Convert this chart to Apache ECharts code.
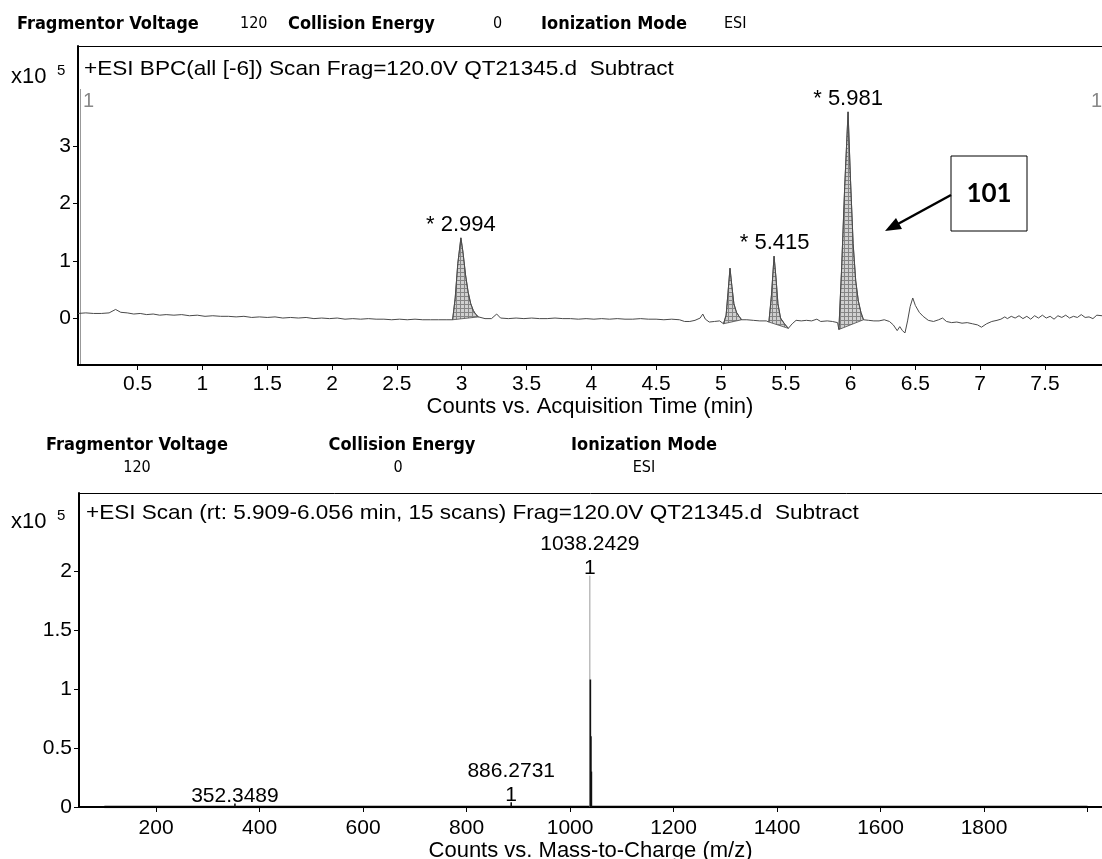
<!DOCTYPE html>
<html><head><meta charset="utf-8">
<script src="https://cdn.jsdelivr.net/npm/echarts@6/dist/echarts.min.js"></script>
<style>html,body{margin:0;padding:0;background:#fff}#c{width:1102px;height:859px}</style>
</head><body><div id="c"></div>
<script>
// ---------- Chromatogram (BPC) ----------
const chromTime = [
0.04,0.10,0.16,0.22,0.28,0.33,0.37,0.42,0.47,0.52,0.57,0.62,0.67,0.72,0.78,0.84,0.90,0.96,1.02,1.08,1.14,1.20,1.26,1.32,1.38,1.44,1.50,1.56,1.62,1.68,1.74,1.80,1.86,1.92,1.98,2.04,2.10,2.16,2.22,2.28,2.34,2.40,2.46,2.52,2.58,2.64,2.70,2.76,2.82,2.88,2.93,
2.95,2.97,2.994,3.01,3.03,3.05,3.07,3.09,3.11,3.13,
3.18,3.23,3.27,3.30,3.36,3.42,3.48,3.54,3.60,3.66,3.72,3.78,3.84,3.90,3.96,4.02,4.08,4.14,4.20,4.26,4.32,4.38,4.44,4.50,4.56,4.62,4.68,4.72,4.76,4.80,4.84,4.86,4.88,4.91,4.95,4.99,5.02,
5.04,5.055,5.07,5.085,5.10,5.12,5.14,5.16,
5.20,5.25,5.30,5.35,5.37,
5.39,5.41,5.425,5.44,5.46,5.49,5.52,
5.55,5.58,5.62,5.66,5.70,5.74,5.77,5.82,5.86,5.90,5.91,
5.93,5.955,5.981,6.00,6.02,6.04,6.06,6.08,6.10,
6.14,6.18,6.22,6.26,6.30,6.33,6.36,6.38,6.40,6.42,6.44,6.46,6.48,6.50,6.53,6.56,6.60,6.64,6.68,6.71,6.74,6.78,6.82,6.86,6.90,6.94,6.98,7.01,7.05,7.09,7.13,7.16,7.19,7.21,7.24,7.27,7.30,7.33,7.36,7.39,7.42,7.45,7.48,7.51,7.54,7.57,7.60,7.63,7.66,7.69,7.72,7.75,7.78,7.81,7.84,7.87,7.90,7.94
];
const chromSignal = [
0.08,0.09,0.08,0.08,0.09,0.15,0.10,0.09,0.07,0.08,0.06,0.07,0.05,0.06,0.05,0.06,0.04,0.05,0.03,0.04,0.03,0.03,0.02,0.03,0.01,0.02,0.01,0.02,0.00,0.01,0.00,0.01,-0.01,0.00,-0.01,0.00,-0.02,-0.01,-0.02,-0.01,-0.02,-0.02,-0.03,-0.02,-0.03,-0.02,-0.03,-0.03,-0.03,-0.03,-0.03,
0.35,0.95,1.40,1.15,0.75,0.45,0.25,0.13,0.06,0.02,
-0.01,-0.01,0.07,0.00,-0.01,0.00,-0.01,0.00,-0.01,-0.01,0.00,-0.01,-0.01,-0.02,-0.01,-0.02,-0.01,-0.02,-0.01,-0.02,-0.02,-0.01,-0.02,-0.02,-0.03,-0.02,-0.03,-0.06,-0.06,-0.04,0.00,0.07,-0.02,-0.07,-0.06,-0.05,-0.10,
0.05,0.45,0.87,0.55,0.25,0.10,0.03,-0.03,
-0.03,-0.04,-0.05,-0.05,-0.07,
0.40,1.08,0.70,0.25,0.00,-0.10,-0.18,
-0.10,-0.04,-0.05,-0.04,-0.05,-0.02,-0.06,-0.05,-0.06,-0.08,-0.20,
0.80,2.30,3.60,2.40,1.30,0.65,0.30,0.10,-0.03,
-0.04,-0.05,-0.05,-0.03,-0.06,-0.12,-0.22,-0.15,-0.22,-0.26,-0.05,0.20,0.35,0.22,0.10,0.03,-0.04,-0.06,-0.03,0.00,-0.06,-0.08,-0.07,-0.09,-0.08,-0.10,-0.12,-0.16,-0.10,-0.06,-0.04,-0.02,0.02,-0.01,0.03,0.00,0.04,-0.01,0.03,-0.02,0.04,0.00,0.05,0.00,0.03,-0.02,0.04,0.01,0.05,0.00,0.03,0.01,0.06,0.01,0.02,-0.01,0.05,0.04
];
const peakWindows = [[2.93,3.13],[5.02,5.16],[5.37,5.52],[5.91,6.10]];
const peakLabelTimes = [2.994,5.415,5.981];
const peakLabelValues = [1.40,1.08,3.60];
const peakLabelTexts = ['* 2.994','* 5.415','* 5.981'];
const timeTicks = [0.5,1,1.5,2,2.5,3,3.5,4,4.5,5,5.5,6,6.5,7,7.5];
const countTicksTop = [0,1,2,3];

// ---------- Mass spectrum ----------
const msMz = [352.3489,886.2731,1038.2429,1039.2460,1040.2490,1041.2520];
const msIntensity = [0.03,0.04,1.96,1.08,0.60,0.30];
const msBaseMz = [100,2000];
const msBaseValue = [0,0];
const msLabelMz = [352.3489,886.2731,1038.2429];
const msLabelValues = [0.03,0.04,1.96];
const msLabelTexts = ['352.3489','886.2731\n1','1038.2429\n1'];
const mzTicks = [200,400,600,800,1000,1200,1400,1600,1800,2000];
const mzLabels = [200,400,600,800,1000,1200,1400,1600,1800];
const countTicksBottom = [0,0.5,1,1.5,2];

const AR = 'Liberation Sans, Arial, sans-serif';
const HD = 'DejaVu Sans Condensed, DejaVu Sans, sans-serif';

const hatch = document.createElement('canvas');
hatch.width = 4; hatch.height = 4;
const g = hatch.getContext('2d');
g.fillStyle = '#d0d0d0'; g.fillRect(0,0,4,4);
g.fillStyle = '#858585'; g.fillRect(0,0,4,1); g.fillRect(0,0,1,4);

const chromData = chromTime.map((t,i)=>[t,chromSignal[i]]);

const chart = echarts.init(document.getElementById('c'), null, {renderer:'canvas'});

function axisX(min,max,ticks,labels,name,grid,gap,margin){
  return {
    type:'value', gridIndex:grid, min:min, max:max,
    axisLine:{show:true,onZero:false,lineStyle:{color:'#000',width:2}},
    axisTick:{show:true,customValues:ticks,length:5,lineStyle:{color:'#000',width:1}},
    axisLabel:{customValues:labels,color:'#000',fontFamily:AR,fontSize:21,margin:margin,
      formatter:function(v){return String(v);}},
    splitLine:{show:false},
    name:name, nameLocation:'middle', nameGap:gap,
    nameTextStyle:{color:'#000',fontFamily:AR,fontSize:22}
  };
}
function axisY(min,max,ticks,grid){
  return {
    type:'value', gridIndex:grid, min:min, max:max,
    axisLine:{show:true,onZero:false,lineStyle:{color:'#000',width:2}},
    axisTick:{show:true,customValues:ticks,length:5,lineStyle:{color:'#000',width:1}},
    axisLabel:{customValues:ticks,color:'#000',fontFamily:AR,fontSize:21,margin:7,
      formatter:function(v){return String(v);}},
    splitLine:{show:false}
  };
}

const txt = (x,y,text,font,align,color,sx)=>({type:'text',x:x,y:y,silent:true,scaleX:sx||1,
  style:{text:text,font:font,fill:color||'#000',textAlign:align||'left',textVerticalAlign:'middle'}});
const hline = (x1,y1,x2,y2,color,w)=>({type:'line',silent:true,shape:{x1:x1,y1:y1,x2:x2,y2:y2},style:{stroke:color,lineWidth:w}});

const option = {
  animation:false,
  backgroundColor:'#fff',
  grid:[
    {left:78,top:46,width:1024,height:319,show:false,containLabel:false,outerBoundsMode:'none'},
    {left:79,top:493,width:1023,height:314,show:false,containLabel:false,outerBoundsMode:'none'}
  ],
  xAxis:[
    axisX(0.04,7.94,timeTicks,timeTicks,'Counts vs. Acquisition Time (min)',0,31,9),
    axisX(51,2028,mzTicks,mzLabels,'Counts vs. Mass-to-Charge (m/z)',1,32,11)
  ],
  yAxis:[
    axisY(-0.82,4.75,countTicksTop,0),
    axisY(0,2.66,countTicksBottom,1)
  ],
  series:[
    {type:'line',xAxisIndex:0,yAxisIndex:0,data:chromData,showSymbol:false,symbol:'none',
      lineStyle:{color:'#4a4a4a',width:1},z:3},
    {type:'custom',xAxisIndex:0,yAxisIndex:0,data:peakWindows,z:2,clip:true,
      renderItem:function(params,api){
        const a=api.value(0), b=api.value(1);
        const pts=[];
        chromData.forEach(p=>{ if(p[0]>=a-1e-9 && p[0]<=b+1e-9) pts.push(api.coord(p)); });
        return {type:'polygon',shape:{points:pts},
          style:{fill:{image:hatch,repeat:'repeat'},stroke:'#4a4a4a',lineWidth:0.8}};
      }},
    {type:'scatter',xAxisIndex:0,yAxisIndex:0,symbolSize:0,z:4,itemStyle:{opacity:1},
      data:peakLabelTimes.map((t,i)=>({value:[t,peakLabelValues[i]],label:{formatter:peakLabelTexts[i]}})),
      label:{show:true,position:'top',distance:2,color:'#000',opacity:1,fontFamily:AR,fontSize:22}},
    {type:'line',xAxisIndex:1,yAxisIndex:1,data:msBaseMz.map((m,i)=>[m,msBaseValue[i]]),
      symbol:'none',lineStyle:{color:'#000',width:2.5},z:2},
    {type:'custom',xAxisIndex:1,yAxisIndex:1,z:3,
      data:msMz.map((m,i)=>[m,msIntensity[i]]),
      renderItem:function(params,api){
        const p0=api.coord([api.value(0),0]), p1=api.coord([api.value(0),api.value(1)]);
        const main = params.dataIndex===2;
        return {type:'line',shape:{x1:p0[0],y1:p0[1],x2:p1[0],y2:p1[1]},
          style:{stroke:main?'#9a9a9a':'#111',lineWidth:main?1:1.6}};
      }},
    {type:'scatter',xAxisIndex:1,yAxisIndex:1,symbolSize:0,z:4,itemStyle:{opacity:1},
      data:msLabelMz.map((m,i)=>({value:[m,msLabelValues[i]],label:{formatter:msLabelTexts[i]}})),
      label:{show:true,position:'top',distance:0,offset:[0,5],color:'#000',opacity:1,fontFamily:AR,fontSize:21,lineHeight:24,align:'center'}}
  ],
  graphic:[
    // header row 1
    txt(17,24,'Fragmentor Voltage','bold 18px '+HD),
    txt(240,24,'120','16px '+HD),
    txt(288,24,'Collision Energy','bold 18px '+HD),
    txt(493,24,'0','16px '+HD),
    txt(541,24,'Ionization Mode','bold 18px '+HD),
    txt(724,24,'ESI','16px '+HD),
    // header row 2
    txt(137,445,'Fragmentor Voltage','bold 18px '+HD,'center'),
    txt(137,468,'120','16px '+HD,'center'),
    txt(402,445,'Collision Energy','bold 18px '+HD,'center'),
    txt(398,468,'0','16px '+HD,'center'),
    txt(644,445,'Ionization Mode','bold 18px '+HD,'center'),
    txt(644,468,'ESI','16px '+HD,'center'),
    // frame tops
    hline(78,46.5,1102,46.5,'#000',1),
    hline(79,493.5,1102,493.5,'#000',1),
    // titles
    txt(84,69,'+ESI BPC(all [-6]) Scan Frag=120.0V QT21345.d  Subtract','21px '+AR,'left','#000',1.075),
    txt(86,513,'+ESI Scan (rt: 5.909-6.056 min, 15 scans) Frag=120.0V QT21345.d  Subtract','21px '+AR,'left','#000',1.073),
    // exponents
    txt(11,77,'x10','22px '+AR), txt(57,71,'5','15px '+AR),
    txt(11,522,'x10','22px '+AR), txt(57,516,'5','15px '+AR),
    // range markers
    hline(80.5,89,80.5,364,'#999',1),
    txt(83,101,'1','20px '+AR,'left','#888'),
    txt(1091,101,'1','20px '+AR,'left','#888'),
    // annotation 101
    {type:'rect',silent:true,shape:{x:951,y:156,width:76,height:75},style:{fill:'#fff',stroke:'#000',lineWidth:1}},
    txt(989,194,'101','bold 26px Lato, Open Sans, sans-serif','center'),
    hline(951,195,896,225,'#000',2.5),
    {type:'polygon',silent:true,shape:{points:[[885,231],[902,229],[896,218]]},style:{fill:'#000'}}
  ]
};
chart.setOption(option);
</script>
</body></html>
